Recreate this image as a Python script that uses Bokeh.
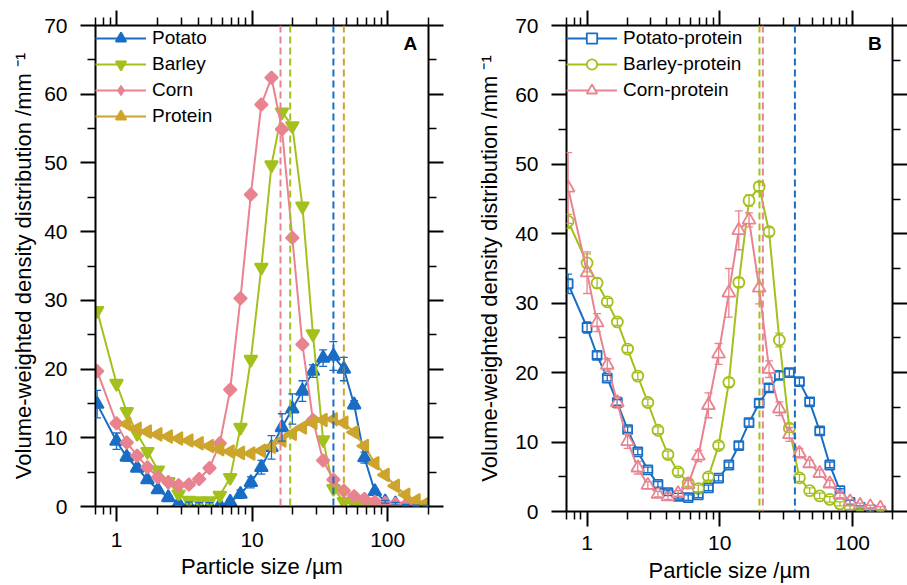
import numpy as np
from bokeh.plotting import figure
from bokeh.models import (Range1d, LinearAxis, LogAxis, FixedTicker, Span, Legend, LegendItem,
                          Whisker, TeeHead, ColumnDataSource, Label, CustomJSTickFormatter,
                          PrintfTickFormatter)
from bokeh.layouts import row, column
from bokeh.embed import file_html
from bokeh.resources import INLINE

FONT = "Liberation Sans"
BLUE = "#1a6dc4"
GREEN = "#a3c11c"
PINK = "#e8838f"
GOLD = "#cda42c"

# ---------------- data ----------------
size_um = [0.72, 1.00, 1.19, 1.42, 1.69, 2.02, 2.41, 2.87, 3.42, 4.07, 4.85, 5.78, 6.89, 8.21,
           9.79, 11.7, 13.9, 16.6, 19.8, 23.5, 28.1, 33.4, 39.8, 47.5, 56.6, 67.4, 80.4, 95.8,
           114, 136, 162, 193]

# Panel A
potato = [14.9, 9.5, 7.2, 5.6, 3.9, 2.45, 1.3, 0.45, 0.15, 0.05, 0.05, 0.15, 0.65, 1.8, 3.5, 5.7,
          8.6, 11.5, 14.2, 16.8, 19.7, 21.6, 21.9, 20.0, 14.8, 7.1, 2.2, 0.7, 0.4, 0.2, 0.1, 0.05]
potato_err = [2.0, 1.2, 0.6, 0.4, 0.3, 0.3, 0.3, 0.3, 0.5, 0.5, 0.5, 0.3, 0.4, 0.6, 0.8, 1.0,
              1.7, 2.0, 2.2, 1.5, 0.9, 1.2, 2.1, 1.7, 0.6, 0.8, 0.3, 0.2, 0.2, 0.1, 0.1, 0.1]
barley = [28.5, 17.9, 13.8, 10.6, 8.0, 5.3, 3.6, 1.8, 0.9, 0.8, 0.8, 1.6, 4.2, 11.5, 21.4, 34.8,
          49.7, 57.4, 55.4, 43.7, 25.1, 9.7, 2.6, 0.7, 0.3, 0.15, 0.1, 0.05, 0.03, 0.02, 0.01, 0.0]
corn = [19.7, 12.1, 9.3, 7.4, 5.7, 4.25, 3.55, 3.1, 3.2, 4.0, 5.6, 9.2, 17.0, 30.3, 45.4, 58.5,
        62.4, 54.9, 39.1, 23.6, 12.6, 6.7, 3.9, 2.3, 1.5, 1.1, 0.7, 0.5, 0.35, 0.2, 0.1, 0.05]
protein = [12.0, 11.3, 10.9, 10.5, 10.2, 9.9, 9.6, 9.2, 8.8, 8.35, 8.0, 7.8, 7.7, 8.1, 8.7,
           9.6, 10.6, 11.5, 12.2, 12.6, 12.7, 12.2, 10.8, 8.8, 6.3, 4.6, 3.0, 1.7, 0.9, 0.5]
d50_A = {"Potato": 39.8, "Barley": 19.1, "Corn": 16.2, "Protein": 47.5}

# Panel B
potato_protein = [32.8, 26.5, 22.5, 19.2, 15.7, 11.8, 8.6, 6.0, 3.9, 2.7, 2.2, 2.0, 2.4, 3.4, 4.8,
                  6.7, 9.5, 12.8, 15.6, 17.8, 19.6, 20.0, 18.7, 15.8, 11.6, 6.7, 3.0, 1.3, 0.6,
                  0.3, 0.1]
potato_protein_err = [1.4, 0.8, 0.5, 0.4, 0.4, 0.4, 0.4, 0.4, 0.4, 0.4, 0.4, 0.4, 0.4, 0.4, 0.4,
                      0.4, 0.5, 0.5, 0.5, 0.5, 0.5, 0.5, 0.5, 0.5, 0.5, 0.4, 0.3, 0.3, 0.2, 0.2,
                      0.1]
barley_protein = [41.8, 35.8, 32.9, 30.2, 27.3, 23.4, 19.5, 15.7, 11.7, 8.2, 5.7, 4.1, 3.3, 5.0,
                  9.5, 18.6, 33.0, 44.8, 46.8, 40.3, 24.7, 12.0, 4.85, 3.0, 2.25, 1.75, 1.1, 0.6,
                  0.3, 0.15, 0.1]
barley_protein_err = [1.0, 1.3, 0.7, 0.5, 0.5, 0.5, 0.5, 0.5, 0.5, 0.5, 0.5, 0.5, 0.5, 0.5, 0.5,
                      0.6, 0.6, 0.8, 0.6, 0.6, 1.0, 0.6, 0.5, 0.4, 0.4, 0.4, 0.3, 0.3, 0.2, 0.2,
                      0.1]
corn_protein = [46.6, 34.4, 27.2, 21.1, 15.7, 10.1, 6.3, 3.8, 2.5, 2.15, 2.6, 3.9, 8.0, 15.3,
                22.7, 31.5, 40.5, 42.0, 32.2, 20.5, 14.8, 11.1, 8.4, 6.9, 5.5, 4.0, 2.4, 1.4, 0.9,
                0.7, 0.5]
corn_protein_err = [5.1, 3.0, 1.3, 0.9, 0.8, 1.0, 0.9, 0.5, 0.4, 0.4, 0.4, 0.6, 0.8, 1.8, 1.5,
                    3.5, 2.8, 1.0, 2.3, 1.2, 1.0, 1.0, 0.7, 0.5, 0.5, 0.5, 0.4, 0.3, 0.3, 0.2, 0.2]
d50_B = {"Potato-protein": 36.8, "Barley-protein": 19.9, "Corn-protein": 21.1}

x_major = [1, 10, 100]
x_minor = [0.7, 0.8, 0.9, 2, 3, 4, 5, 6, 7, 8, 9, 20, 30, 40, 50, 60, 70, 80, 90, 200]
y_major = [0, 10, 20, 30, 40, 50, 60, 70]
y_minor = [5, 15, 25, 35, 45, 55, 65]

X_LABEL = "Particle size /\u00b5m"
Y_LABEL = "Volume-weighted density distribution /mm \u207b\u00b9"


def style_axis(ax, ticks, minor, formatter, tick_standoff):
    ax.ticker = FixedTicker(ticks=ticks, minor_ticks=minor)
    ax.formatter = formatter
    ax.axis_line_width = 2
    ax.axis_line_color = "black"
    ax.major_tick_line_width = 2
    ax.minor_tick_line_width = 1.5
    ax.major_tick_line_color = "black"
    ax.minor_tick_line_color = "black"
    ax.major_tick_out = 15
    ax.major_tick_in = 0
    ax.minor_tick_out = 8
    ax.minor_tick_in = 0
    ax.major_label_text_font = FONT
    ax.major_label_text_font_size = "21px"
    ax.major_label_text_color = "black"
    ax.major_label_standoff = tick_standoff
    ax.axis_label_text_font = FONT
    ax.axis_label_text_font_size = "22px"
    ax.axis_label_text_font_style = "normal"
    ax.axis_label_text_color = "black"


def make_panel(width, height, bl, br, bt, bb, xs, ys, xls, yls):
    p = figure(width=width, height=height, x_axis_type="log",
               x_range=Range1d(0.7, 200), y_range=Range1d(0, 70),
               output_backend="svg", toolbar_location=None,
               min_border_left=bl, min_border_right=br, min_border_top=bt,
               min_border_bottom=bb)
    p.grid.visible = False
    p.outline_line_color = None
    p.background_fill_color = "white"
    p.border_fill_color = "white"
    style_axis(p.below[0], x_major, x_minor, PrintfTickFormatter(format="%d"), xs)
    p.below[0].axis_label = X_LABEL
    p.below[0].axis_label_standoff = xls
    style_axis(p.left[0], y_major, y_minor, PrintfTickFormatter(format="%d"), ys)
    p.left[0].axis_label = Y_LABEL
    p.left[0].axis_label_standoff = yls
    top = LogAxis()
    style_axis(top, x_major, x_minor, CustomJSTickFormatter(code="return ''"), 0)
    p.add_layout(top, "above")
    right = LinearAxis()
    style_axis(right, y_major, y_minor, CustomJSTickFormatter(code="return ''"), 0)
    p.add_layout(right, "right")
    return p


def add_series(p, x, y, color, marker, size, fill, err=None, angle=0.0, legend_marker=None):
    r_line = p.line(x, y, line_color=color, line_width=2)
    r_pts = p.scatter(x, y, marker=marker, size=size, angle=angle,
                      fill_color=fill, line_color=color, line_width=1.8)
    r_leg = r_pts
    if legend_marker is not None:
        # drawn inside the rotated markers, only used for the legend symbol
        r_leg = p.scatter(x, y, marker=legend_marker, size=size, fill_color=fill,
                          line_color=color, line_width=1)
    if err is not None:
        src = ColumnDataSource(dict(x=x, lo=[a - b for a, b in zip(y, err)],
                                    hi=[a + b for a, b in zip(y, err)]))
        w = Whisker(source=src, base="x", lower="lo", upper="hi", dimension="height",
                    line_color=color, line_width=1.3, level="annotation",
                    upper_head=TeeHead(size=8, line_color=color, line_width=1.3),
                    lower_head=TeeHead(size=8, line_color=color, line_width=1.3))
        p.add_layout(w)
    return [r_line, r_leg]


def style_legend(p, items, glyph_w):
    lg = Legend(items=items, location="top_left")
    lg.label_text_font = FONT
    lg.label_text_font_size = "19px"
    lg.label_text_color = "black"
    lg.glyph_width = glyph_w
    lg.glyph_height = 26
    lg.label_height = 26
    lg.spacing = 0
    lg.padding = 0
    lg.margin = 0
    lg.label_standoff = 6
    lg.background_fill_alpha = 0
    lg.border_line_alpha = 0
    p.add_layout(lg)


# ---------------- Panel A ----------------
pA = make_panel(463, 585, 95, 35, 25, 79, xs=11, ys=13, xls=4, yls=5)
for name, col in [("Potato", BLUE), ("Barley", GREEN), ("Corn", PINK), ("Protein", GOLD)]:
    pA.add_layout(Span(location=d50_A[name], dimension="height", line_color=col,
                       line_width=2, line_dash="7 4"))

itemsA = []
itemsA.append(LegendItem(label="Potato", renderers=add_series(
    pA, size_um, potato, BLUE, "triangle", 13, BLUE, err=potato_err)))
itemsA.append(LegendItem(label="Barley", renderers=add_series(
    pA, size_um, barley, GREEN, "inverted_triangle", 13, GREEN)))
itemsA.append(LegendItem(label="Corn", renderers=add_series(
    pA, size_um, corn, PINK, "square", 9, PINK, angle=np.pi / 4, legend_marker="diamond")))
itemsA.append(LegendItem(label="Protein", renderers=add_series(
    pA, size_um[2:], protein, GOLD, "triangle", 13, GOLD, angle=np.pi / 2)))
style_legend(pA, itemsA, 51)
pA.add_layout(Label(x=165, y=67.4, text="A", text_font=FONT, text_font_style="bold",
                    text_font_size="19px", text_align="right", text_baseline="middle",
                    text_color="black"))

# ---------------- Panel B ----------------
pB = make_panel(444, 585, 103, 7, 25, 72, xs=9, ys=13, xls=5, yls=10)
for name, col in [("Potato-protein", BLUE), ("Barley-protein", GREEN), ("Corn-protein", PINK)]:
    pB.add_layout(Span(location=d50_B[name], dimension="height", line_color=col,
                       line_width=2, line_dash="7 4"))
xb = size_um[:-1]
itemsB = []
itemsB.append(LegendItem(label="Potato-protein", renderers=add_series(
    pB, xb, potato_protein, BLUE, "square", 9, "white", err=potato_protein_err)))
itemsB.append(LegendItem(label="Barley-protein", renderers=add_series(
    pB, xb, barley_protein, GREEN, "circle", 11, "white", err=barley_protein_err)))
itemsB.append(LegendItem(label="Corn-protein", renderers=add_series(
    pB, xb, corn_protein, PINK, "triangle", 13, "white", err=corn_protein_err)))
style_legend(pB, itemsB, 51)
pB.add_layout(Label(x=166, y=67.4, text="B", text_font=FONT, text_font_style="bold",
                    text_font_size="19px", text_align="right", text_baseline="middle",
                    text_color="black"))

layout = row(column(pA), column(pB))
open("out.html", "w").write(file_html(layout, INLINE))
